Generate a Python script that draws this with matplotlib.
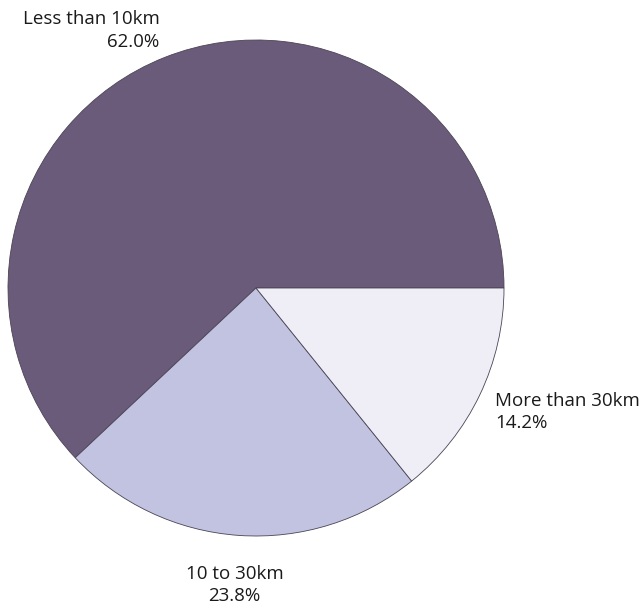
import matplotlib
matplotlib.use("Agg")
import matplotlib.pyplot as plt
import numpy as np

categories = ["Less than 10km", "10 to 30km", "More than 30km"]
values = [62.0, 23.8, 14.2]
colors = ["#6b5b7b", "#c2c3e1", "#efeef6"]

plt.rcParams['font.family'] = ['Open Sans', 'DejaVu Sans']

fig = plt.figure(figsize=(6.41, 6.05), dpi=100)
ax = fig.add_axes([8/641, (605-288-248)/605, 496/641, 496/605])
wedges, _ = ax.pie(values, colors=colors, startangle=0, counterclock=True,
                   wedgeprops=dict(edgecolor="#4a4455", linewidth=0.6))
ax.set_xlim(-1, 1)
ax.set_ylim(-1, 1)
ax.set_aspect('equal')
ax.axis('off')

label_style = {
    "Less than 10km": dict(r=1.12, ha="right", dx=0.024, dy=-0.004),
    "10 to 30km": dict(r=1.19, ha="center", dx=-0.004, dy=-0.01),
    "More than 30km": dict(r=1.09, ha="left", dx=-0.02, dy=-0.03),
}
for w, cat, v in zip(wedges, categories, values):
    mid = np.deg2rad((w.theta1 + w.theta2) / 2)
    s = label_style[cat]
    x = s["r"] * np.cos(mid) + s["dx"]
    y = s["r"] * np.sin(mid) + s["dy"]
    ax.text(x, y, f"{cat}\n{v:.1f}%", ha=s["ha"], va="center", fontsize=13.5,
            color="#1a1a1a", linespacing=1.34, multialignment=s["ha"],
            clip_on=False)

fig.savefig("out.png", dpi=100, facecolor="white")
